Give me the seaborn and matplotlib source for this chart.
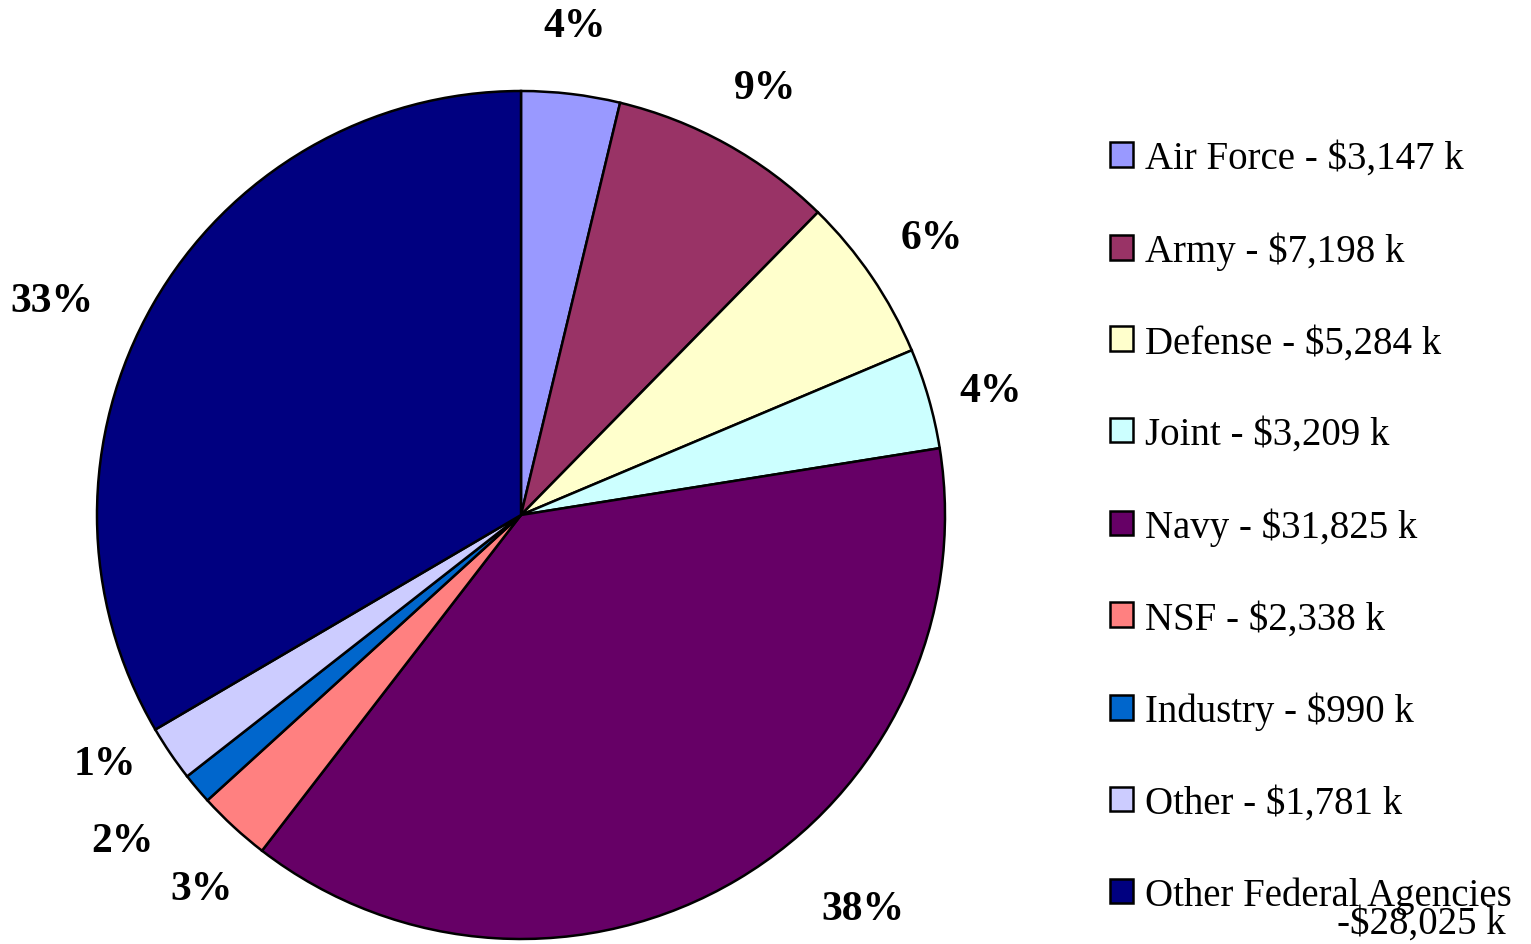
import matplotlib
matplotlib.use("Agg")
import matplotlib.pyplot as plt
import seaborn as sns
import numpy as np

sns.set_style("white")
plt.rcParams['font.family'] = ['Liberation Serif', 'DejaVu Serif']
plt.rcParams['text.color'] = 'black'

# Data
sponsors = ['Air Force', 'Army', 'Defense', 'Joint', 'Navy', 'NSF',
            'Industry', 'Other', 'Other Federal Agencies']
funding_k = [3147, 7198, 5284, 3209, 31825, 2338, 990, 1781, 28025]
pct_labels = ['4%', '9%', '6%', '4%', '38%', '3%', '2%', '1%', '33%']
colors = ['#9999FF', '#993366', '#FFFFCC', '#CCFFFF', '#660066',
          '#FF8080', '#0066CC', '#CCCCFF', '#000080']

# label placement tweaks (angle shift in degrees, radial distance)
label_shift = [0.5, -0.8, -0.2, -1.2, 10.3, 2.1, -0.9, -3.3, 5.3]
label_dist = [1.16, 1.16, 1.17, 1.145, 1.23, 1.16, 1.215, 1.145, 1.215]

W, H = 1531, 945
fig = plt.figure(figsize=(W / 100, H / 100), dpi=100)
ax = fig.add_axes([0, 0, 1, 1])

wedges, _ = ax.pie(funding_k, colors=sns.color_palette(colors), startangle=90,
                   counterclock=False,
                   wedgeprops=dict(edgecolor='black', linewidth=1.8))

# map pie (radius 1) onto pixel layout: centre (521, 516), radius 424 px
cx, cy, R = 521, 516, 424
ax.set_xlim(-cx / R, (W - cx) / R)
ax.set_ylim(-(H - cy) / R, cy / R)
ax.set_aspect('auto')
ax.axis('off')

# percentage labels outside the wedges
for w, lab, sh, d in zip(wedges, pct_labels, label_shift, label_dist):
    ang = np.deg2rad((w.theta1 + w.theta2) / 2 + sh)
    ax.text(d * np.cos(ang), d * np.sin(ang), lab, ha='center', va='center',
            fontsize=30, fontweight='bold', color='black')

legend_labels = [f'{s} - ${v:,} k' for s, v in zip(sponsors, funding_k)]
legend_labels[-1] = sponsors[-1]
leg = ax.legend(wedges, legend_labels, loc='upper left',
                bbox_to_anchor=(1110 / W, 1 - 141 / H), bbox_transform=fig.transFigure,
                frameon=False, fontsize=28, handlelength=0.6, handleheight=0.6,
                handletextpad=0.3, labelspacing=1.40, borderpad=0, borderaxespad=0)
for t in leg.get_texts():
    t.set_color('black')
fig.text(1506 / W, 2 / H, f'-${funding_k[-1]:,} k', ha='right', va='bottom',
         fontsize=28, color='black')

plt.savefig('out.png', dpi=100)
